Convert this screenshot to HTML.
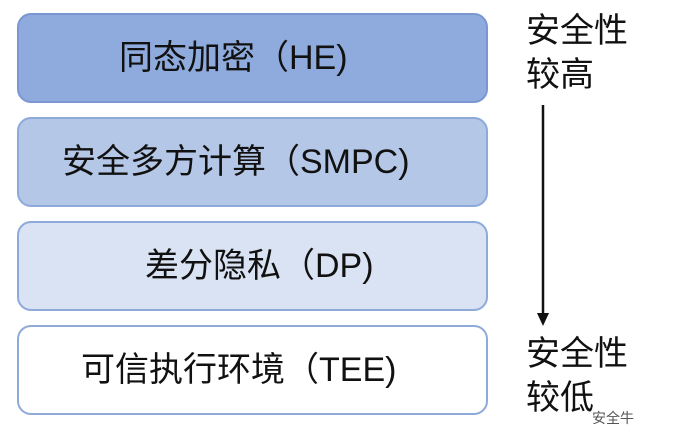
<!DOCTYPE html>
<html><head><meta charset="utf-8"><style>
body{margin:0;width:676px;height:432px;background:#fff;position:relative;overflow:hidden;font-family:"Liberation Sans","Noto Sans CJK SC",sans-serif;color:#111}
.b{position:absolute;left:17px;width:471px;height:90px;border:2px solid #8eaadb;border-radius:14px;box-sizing:border-box;font-size:34px;line-height:86px;white-space:nowrap}
.r{position:absolute;left:526px;font-size:34px;line-height:44px}
</style></head><body>
<div class="b" style="top:13px;background:#8faadc;border-color:#7a97d2"><span style="position:absolute;left:100px">同态加密（HE)</span></div>
<div class="b" style="top:117px;background:#b4c7e7"><span style="position:absolute;left:43px">安全多方计算（SMPC)</span></div>
<div class="b" style="top:221px;background:#dae3f3"><span style="position:absolute;left:126px">差分隐私（DP)</span></div>
<div class="b" style="top:325px;background:#fff"><span style="position:absolute;left:62px">可信执行环境（TEE)</span></div>
<div class="r" style="top:9px">安全性<br>较高</div>
<div class="r" style="top:332px">安全性<br>较低</div>
<svg style="position:absolute;left:0;top:0" width="676" height="432">
<line x1="543" y1="105" x2="543" y2="315" stroke="#111" stroke-width="2.5"/>
<polygon points="537,313 549,313 543,326" fill="#111"/>
</svg>
<div style="position:absolute;left:592px;top:408px;font-size:14px;color:#555">安全牛</div>
</body></html>
